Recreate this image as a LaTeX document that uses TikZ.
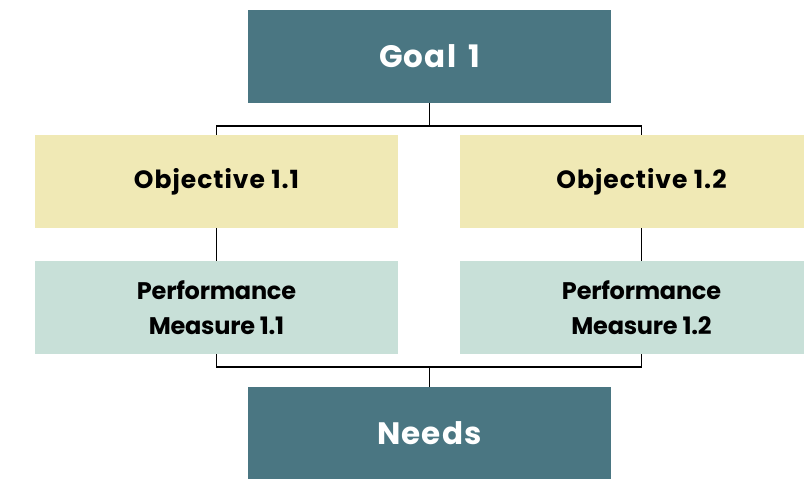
\documentclass[tikz,border=0pt]{standalone}
\usepackage{fontspec}
\setmainfont{Poppins}
\definecolor{teal1}{RGB}{74,118,130}
\definecolor{yel1}{RGB}{240,233,181}
\definecolor{grn1}{RGB}{200,224,216}
\begin{document}
\begin{tikzpicture}[x=1pt,y=-1pt,
  box/.style={rectangle,inner sep=0pt,minimum width=363pt,minimum height=93pt,align=center},
  topbox/.style={box,fill=teal1,text=white,font=\fontsize{31}{36}\selectfont\bfseries\addfontfeature{LetterSpace=4}},
  objbox/.style={box,fill=yel1,text=black,font=\fontsize{25}{30}\selectfont\bfseries\addfontfeature{LetterSpace=4}},
  perfbox/.style={box,fill=grn1,text=black,font=\fontsize{24}{35}\selectfont\bfseries\addfontfeature{LetterSpace=-1}},
  conn/.style={draw=black,line width=1.6pt}]
\useasboundingbox (0,0) rectangle (804,479);
\node[topbox] (goal) at (429.5,56.5) {Goal\hspace{4pt} 1};
\node[objbox] (o1) at (216.5,181.5) {Objective 1.1};
\node[objbox] (o2) at (641.5,181.5) {Objective 1.2};
\node[perfbox] (p1) at (216.5,307.5) {Performance\\Measure 1.1};
\node[perfbox] (p2) at (641.5,307.5) {Performance\\Measure 1.2};
\node[topbox] (needs) at (429.5,433.5) {Needs};
\coordinate (top) at (429,126);
\coordinate (bot) at (429,367);
\draw[conn] (goal.south) -- (goal.south |- top);
\draw[conn] (o1.north) -- (o1.north |- top) -- (o2.north |- top) -- (o2.north);
\draw[conn] (o1.south) -- (p1.north);
\draw[conn] (o2.south) -- (p2.north);
\draw[conn] (p1.south) -- (p1.south |- bot) -- (p2.south |- bot) -- (p2.south);
\draw[conn] (needs.north |- bot) -- (needs.north);
\end{tikzpicture}
\end{document}
